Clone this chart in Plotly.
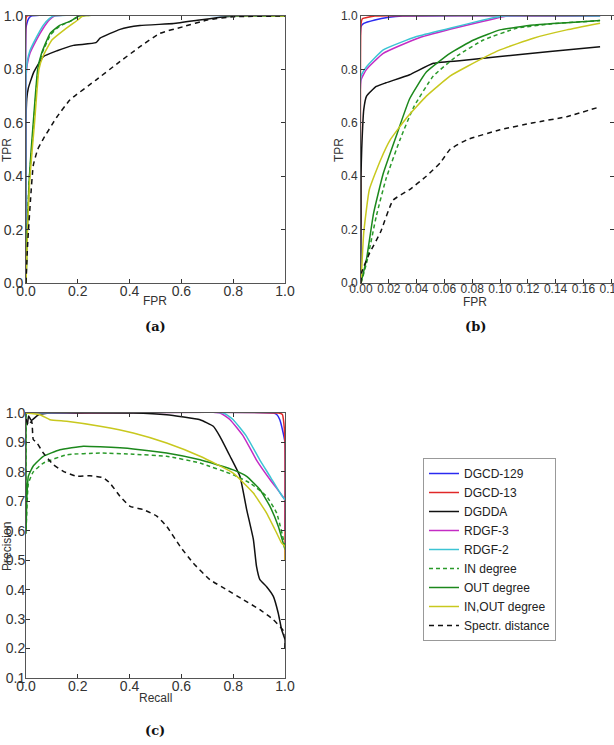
import plotly.graph_objects as go

# ---------------- DATA ----------------
series_names = ["DGCD-129", "DGCD-13", "DGDDA", "RDGF-3", "RDGF-2",
                "IN degree", "OUT degree", "IN,OUT degree", "Spectr. distance"]

# Panel (a): ROC, full FPR range
a_dgcd129_x = [0, 0, 0.004, 0.01, 0.02, 1.0]
a_dgcd129_y = [0, 0.955, 0.975, 0.99, 1.0, 1.0]
a_dgcd13_x = [0, 0, 0.004, 1.0]
a_dgcd13_y = [0, 0.99, 1.0, 1.0]
a_dgdda_x = [0, 0, 0.003, 0.009, 0.03, 0.067, 0.12, 0.183, 0.27, 0.286, 0.363, 0.44, 0.57, 0.67, 0.75, 0.8, 1.0]
a_dgdda_y = [0, 0.6, 0.69, 0.73, 0.79, 0.848, 0.87, 0.89, 0.90, 0.917, 0.95, 0.964, 0.972, 0.985, 0.995, 1.0, 1.0]
a_rdgf3_x = [0, 0, 0.005, 0.015, 0.04, 0.067, 0.09, 0.11, 1.0]
a_rdgf3_y = [0, 0.77, 0.82, 0.86, 0.91, 0.955, 0.985, 1.0, 1.0]
a_rdgf2_x = [0, 0, 0.005, 0.015, 0.04, 0.067, 0.09, 0.105, 1.0]
a_rdgf2_y = [0, 0.78, 0.83, 0.87, 0.92, 0.966, 0.99, 1.0, 1.0]
a_in_x = [0, 0.005, 0.012, 0.022, 0.03, 0.047, 0.062, 0.095, 0.13, 0.17, 0.21, 1.0]
a_in_y = [0, 0.2, 0.38, 0.5, 0.6, 0.8, 0.86, 0.93, 0.962, 0.98, 1.0, 1.0]
a_out_x = [0, 0.005, 0.012, 0.02, 0.028, 0.045, 0.06, 0.093, 0.13, 0.17, 0.205, 1.0]
a_out_y = [0, 0.2, 0.38, 0.5, 0.6, 0.8, 0.86, 0.935, 0.965, 0.98, 1.0, 1.0]
a_inout_x = [0, 0.006, 0.014, 0.024, 0.033, 0.05, 0.066, 0.1, 0.15, 0.2, 0.22, 1.0]
a_inout_y = [0, 0.2, 0.38, 0.5, 0.6, 0.8, 0.85, 0.91, 0.95, 0.985, 1.0, 1.0]
a_spectr_x = [0, 0.005, 0.009, 0.018, 0.028, 0.045, 0.067, 0.118, 0.17, 0.27, 0.35, 0.44, 0.517, 0.607, 0.7, 0.8, 1.0]
a_spectr_y = [0, 0.12, 0.19, 0.32, 0.44, 0.5, 0.54, 0.62, 0.686, 0.76, 0.82, 0.885, 0.935, 0.96, 0.985, 0.997, 1.0]

# Panel (b): ROC, zoom on low FPR
b_dgcd129_x = [0, 0, 0.002, 0.01, 0.02, 0.03, 0.172]
b_dgcd129_y = [0, 0.96, 0.972, 0.985, 0.995, 1.0, 1.0]
b_dgcd13_x = [0, 0, 0.001, 0.01, 0.172]
b_dgcd13_y = [0, 0.97, 0.99, 1.0, 1.0]
b_dgdda_x = [0, 0, 0.0005, 0.002, 0.004, 0.011, 0.018, 0.035, 0.052, 0.076, 0.1, 0.136, 0.172]
b_dgdda_y = [0, 0.4, 0.5, 0.65, 0.70, 0.736, 0.75, 0.78, 0.823, 0.835, 0.848, 0.867, 0.885]
b_rdgf3_x = [0, 0, 0.004, 0.016, 0.04, 0.064, 0.088, 0.105, 0.172]
b_rdgf3_y = [0, 0.76, 0.80, 0.86, 0.915, 0.95, 0.98, 1.0, 1.0]
b_rdgf2_x = [0, 0, 0.004, 0.016, 0.04, 0.064, 0.088, 0.102, 0.172]
b_rdgf2_y = [0, 0.775, 0.81, 0.873, 0.923, 0.954, 0.985, 1.0, 1.0]
b_in_x = [0, 0.004, 0.011, 0.018, 0.028, 0.038, 0.052, 0.069, 0.088, 0.112, 0.136, 0.172]
b_in_y = [0, 0.075, 0.25, 0.39, 0.536, 0.66, 0.775, 0.85, 0.91, 0.954, 0.97, 0.983]
b_out_x = [0, 0.004, 0.009, 0.016, 0.026, 0.035, 0.047, 0.064, 0.081, 0.1, 0.124, 0.148, 0.172]
b_out_y = [0, 0.09, 0.26, 0.41, 0.56, 0.69, 0.79, 0.86, 0.91, 0.948, 0.966, 0.975, 0.983]
b_inout_x = [0, 0.002, 0.006, 0.014, 0.021, 0.033, 0.047, 0.064, 0.076, 0.1, 0.124, 0.148, 0.172]
b_inout_y = [0, 0.19, 0.35, 0.46, 0.536, 0.62, 0.70, 0.775, 0.81, 0.873, 0.917, 0.948, 0.973]
b_spectr_x = [0, 0.0005, 0.006, 0.014, 0.023, 0.035, 0.047, 0.057, 0.064, 0.076, 0.1, 0.124, 0.148, 0.172]
b_spectr_y = [0, 0.04, 0.11, 0.19, 0.31, 0.35, 0.40, 0.45, 0.50, 0.536, 0.574, 0.60, 0.623, 0.66]

# Panel (c): Precision-Recall
c_dgcd129_x = [0, 0.955, 0.968, 0.98, 0.993, 1.0, 1.0]
c_dgcd129_y = [1.0, 1.0, 0.995, 0.977, 0.932, 0.9, 0.6]
c_dgcd13_x = [0, 0.975, 0.99, 0.995, 1.0, 1.0]
c_dgcd13_y = [1.0, 1.0, 0.995, 0.97, 0.9, 0.5]
c_dgdda_x = [0, 0.005, 0.01, 0.02, 0.05, 0.1, 0.414, 0.543, 0.672, 0.723, 0.749, 0.788, 0.826, 0.852, 0.878, 0.89, 0.903, 0.929, 0.955, 0.974, 0.987, 1.0, 1.0]
c_dgdda_y = [0.97, 0.96, 0.99, 0.975, 0.995, 1.0, 1.0, 0.994, 0.977, 0.955, 0.92, 0.853, 0.785, 0.672, 0.57, 0.479, 0.434, 0.41, 0.377, 0.32, 0.264, 0.23, 0.2]
c_rdgf3_x = [0, 0.749, 0.788, 0.84, 0.89, 0.942, 0.98, 1.0]
c_rdgf3_y = [1.0, 1.0, 0.977, 0.92, 0.84, 0.774, 0.73, 0.705]
c_rdgf2_x = [0, 0.762, 0.8, 0.852, 0.903, 0.942, 0.98, 1.0]
c_rdgf2_y = [1.0, 1.0, 0.977, 0.92, 0.84, 0.785, 0.73, 0.705]
c_in_x = [0, 0, 0.009, 0.028, 0.067, 0.157, 0.286, 0.414, 0.543, 0.672, 0.8, 0.865, 0.929, 0.968, 1.0]
c_in_y = [1.0, 0.6, 0.76, 0.80, 0.83, 0.858, 0.864, 0.86, 0.853, 0.83, 0.79, 0.762, 0.717, 0.66, 0.547]
c_out_x = [0, 0, 0.003, 0.009, 0.028, 0.067, 0.131, 0.221, 0.286, 0.414, 0.543, 0.672, 0.8, 0.852, 0.903, 0.942, 0.974, 1.0]
c_out_y = [1.0, 0.59, 0.705, 0.785, 0.82, 0.853, 0.875, 0.887, 0.885, 0.878, 0.864, 0.841, 0.807, 0.785, 0.74, 0.683, 0.615, 0.536]
c_inout_x = [0, 0.054, 0.093, 0.157, 0.286, 0.414, 0.543, 0.672, 0.8, 0.878, 0.929, 0.968, 0.987, 1.0, 1.0]
c_inout_y = [1.0, 0.994, 0.977, 0.972, 0.955, 0.932, 0.898, 0.853, 0.796, 0.728, 0.66, 0.592, 0.558, 0.547, 0.5]
c_spectr_x = [0, 0.009, 0.022, 0.028, 0.041, 0.067, 0.106, 0.144, 0.196, 0.247, 0.299, 0.324, 0.363, 0.402, 0.453, 0.505, 0.543, 0.595, 0.646, 0.71, 0.775, 0.839, 0.903, 0.955, 1.0, 1.0]
c_spectr_y = [0.98, 0.96, 0.972, 0.91, 0.9, 0.864, 0.824, 0.802, 0.785, 0.787, 0.78, 0.762, 0.717, 0.683, 0.672, 0.65, 0.615, 0.547, 0.49, 0.434, 0.4, 0.366, 0.332, 0.298, 0.253, 0.2]

a_ticks = [0, 0.2, 0.4, 0.6, 0.8, 1.0]
b_xticks = [0, 0.02, 0.04, 0.06, 0.08, 0.10, 0.12, 0.14, 0.16, 0.18]
c_yticks = [0.1, 0.2, 0.3, 0.4, 0.5, 0.6, 0.7, 0.8, 0.9, 1.0]

# ---------------- STYLE ----------------
styles = [
    dict(color="#2a2af0", dash="solid"),
    dict(color="#e02828", dash="solid"),
    dict(color="#111111", dash="solid"),
    dict(color="#c42cc4", dash="solid"),
    dict(color="#3cc4d4", dash="solid"),
    dict(color="#2a9a2a", dash="4px,3px"),
    dict(color="#1c881c", dash="solid"),
    dict(color="#c8c81e", dash="solid"),
    dict(color="#111111", dash="5px,4px"),
]

panel_a = [(a_dgcd129_x, a_dgcd129_y), (a_dgcd13_x, a_dgcd13_y), (a_dgdda_x, a_dgdda_y),
           (a_rdgf3_x, a_rdgf3_y), (a_rdgf2_x, a_rdgf2_y), (a_in_x, a_in_y),
           (a_out_x, a_out_y), (a_inout_x, a_inout_y), (a_spectr_x, a_spectr_y)]
panel_b = [(b_dgcd129_x, b_dgcd129_y), (b_dgcd13_x, b_dgcd13_y), (b_dgdda_x, b_dgdda_y),
           (b_rdgf3_x, b_rdgf3_y), (b_rdgf2_x, b_rdgf2_y), (b_in_x, b_in_y),
           (b_out_x, b_out_y), (b_inout_x, b_inout_y), (b_spectr_x, b_spectr_y)]
panel_c = [(c_dgcd129_x, c_dgcd129_y), (c_dgcd13_x, c_dgcd13_y), (c_dgdda_x, c_dgdda_y),
           (c_rdgf3_x, c_rdgf3_y), (c_rdgf2_x, c_rdgf2_y), (c_in_x, c_in_y),
           (c_out_x, c_out_y), (c_inout_x, c_inout_y), (c_spectr_x, c_spectr_y)]

fig = go.Figure()
for panel, (xa, ya), show in [(panel_a, ("x", "y"), True), (panel_b, ("x2", "y2"), False),
                              (panel_c, ("x3", "y3"), False)]:
    for name, (xs, ys), st in zip(series_names, panel, styles):
        fig.add_trace(go.Scatter(
            x=xs, y=ys, mode="lines", name=name, legendgroup=name, showlegend=show,
            line=dict(color=st["color"], dash=st["dash"], width=1.5, shape="spline", smoothing=0.4),
            xaxis=xa, yaxis=ya, hoverinfo="skip"))

W, H = 614, 745
def px_x(p): return p / W
def px_y(p): return 1 - p / H

FONT = "Arial, Liberation Sans, sans-serif"
big_tick = dict(family=FONT, size=14, color="#333333")
small_tick = dict(family=FONT, size=12, color="#333333")
def axis(domain, rng, tickvals, fmt, anchor, font=big_tick, standoff=0, **kw):
    d = dict(domain=domain, range=rng, tickvals=tickvals, tickformat=fmt, anchor=anchor,
             showline=True, linecolor="#555555", linewidth=1, mirror="ticks",
             ticks="inside", ticklen=4, tickcolor="#333333", tickwidth=1,
             showgrid=False, zeroline=False, tickfont=font, fixedrange=True,
             automargin=False, ticklabelstandoff=standoff)
    d.update(kw)
    return d

xa_dom = [px_x(26), px_x(285)]
xb_dom = [px_x(361), 1.0]
top_dom = [px_y(283), px_y(16)]
bot_dom = [px_y(678), px_y(413)]
b_right = (W - 361) / 27.8 * 0.02

fig.update_layout(
    width=W, height=H, margin=dict(l=0, r=0, t=0, b=0),
    paper_bgcolor="white", plot_bgcolor="white",
    font=dict(family=FONT, size=12, color="#222222"),
    xaxis=axis(xa_dom, [0, 1], a_ticks, ".1f", "y", standoff=-5),
    yaxis=axis(top_dom, [0, 1], a_ticks, ".1f", "x", standoff=-1),
    xaxis2=axis(xb_dom, [0, b_right], b_xticks, ".2f", "y2", font=small_tick, standoff=-5,
                ticklabeloverflow="allow"),
    yaxis2=axis(top_dom, [0, 1], a_ticks, ".1f", "x2", font=small_tick),
    xaxis3=axis(xa_dom, [0, 1], a_ticks, ".1f", "y3", standoff=-5),
    yaxis3=axis(bot_dom, [0.1, 1.0], c_yticks, ".1f", "x3", standoff=-3),
    showlegend=True,
    legend=dict(x=px_x(423), y=px_y(458), xanchor="left", yanchor="top",
                bordercolor="#999999", borderwidth=1, bgcolor="white",
                font=dict(family=FONT, size=12, color="#222222"),
                itemwidth=30, tracegroupgap=0),
)

ann_font = dict(family=FONT, size=12, color="#333333")
lab_font = dict(family="DejaVu Serif, Liberation Serif, serif", size=13, color="#111111")
anns = [
    dict(text="FPR", x=px_x(155), y=px_y(301), font=ann_font),
    dict(text="FPR", x=px_x(475), y=px_y(302), font=ann_font),
    dict(text="Recall", x=px_x(155), y=px_y(698), font=ann_font),
    dict(text="TPR", x=px_x(7), y=px_y(150), font=ann_font, textangle=-90),
    dict(text="TPR", x=px_x(339), y=px_y(150), font=ann_font, textangle=-90),
    dict(text="Precision", x=px_x(7), y=px_y(547), font=ann_font, textangle=-90),
    dict(text="<b>(a)</b>", x=px_x(155), y=px_y(326), font=lab_font),
    dict(text="<b>(b)</b>", x=px_x(475), y=px_y(326), font=lab_font),
    dict(text="<b>(c)</b>", x=px_x(155), y=px_y(730), font=lab_font),
]
for a in anns:
    a.update(xref="paper", yref="paper", showarrow=False, xanchor="center", yanchor="middle")
fig.update_layout(annotations=anns)

fig.write_html("out.html")
